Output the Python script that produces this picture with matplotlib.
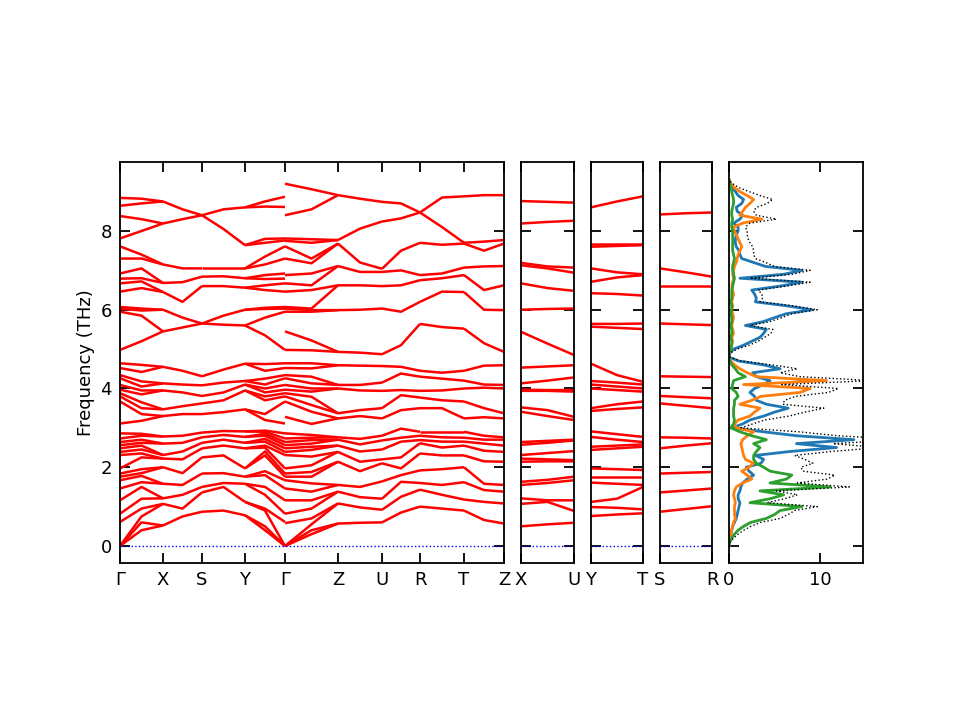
import matplotlib
matplotlib.use('Agg')
import matplotlib.pyplot as plt
import numpy as np

# ---------------- band data (THz) ----------------
# Columns of band frequencies at the start / middle / end of each path segment.
# On the zone faces the bands are pairwise degenerate; those columns list each pair once.
G0 = [0, 0, 0, 0.61, 0.82, 1.16, 1.46, 1.67, 1.76, 1.84, 1.97, 2.31, 2.39, 2.48, 2.56, 2.64, 2.73, 2.86,
      3.11, 3.67, 3.80, 3.88, 3.97, 4.09, 4.26, 4.34, 4.52, 4.64,
      4.98, 5.95, 6.03, 6.07, 6.46, 6.67, 6.79, 6.92, 7.30, 7.61, 7.81, 8.38, 8.64, 8.84]
GX_m = [0.40, 0.60, 0.75, 0.95, 1.20, 1.50, 1.62, 1.78, 1.85, 1.95, 2.25, 2.35, 2.45, 2.55, 2.62, 2.70, 2.80, 2.85,
        3.18, 3.35, 3.50, 3.65, 3.85, 3.95, 4.05, 4.18, 4.42, 4.60,
        5.20, 5.85, 5.98, 6.03, 6.55, 6.72, 6.80, 7.05, 7.30, 7.40, 8.00, 8.30, 8.70, 8.82]
X2 = [0.52, 1.07, 1.21, 1.58, 2.00, 2.22, 2.31, 2.60, 2.78, 3.30, 3.47, 3.95, 4.13, 4.55, 5.45, 6.00, 6.45, 6.68, 7.15, 8.19, 8.75]
XS_m = [0.75, 0.95, 1.30, 1.55, 1.85, 2.20, 2.40, 2.62, 2.80, 3.35, 3.55, 3.90, 4.10, 4.45, 5.55, 5.80, 6.20, 6.70, 7.05, 8.30, 8.55]
S2 = [0.87, 1.36, 1.50, 1.84, 2.25, 2.48, 2.62, 2.76, 2.88, 3.35, 3.62, 3.81, 4.08, 4.31, 5.65, 5.65, 6.60, 6.84, 7.05, 8.40, 8.40]
SY_m = [0.90, 1.50, 1.60, 1.85, 2.30, 2.55, 2.70, 2.82, 2.92, 3.40, 3.70, 3.90, 4.15, 4.48, 5.62, 5.85, 6.60, 6.85, 7.05, 8.05, 8.55]
Y2 = [0.78, 1.12, 1.58, 1.76, 1.97, 2.48, 2.62, 2.77, 2.91, 3.47, 3.95, 4.10, 4.19, 4.63, 5.60, 6.00, 6.56, 6.80, 7.05, 7.64, 8.60]
YG_m = [0.40, 0.50, 0.90, 0.95, 1.30, 1.50, 1.80, 1.90, 2.30, 2.40, 2.50, 2.55, 2.65, 2.72, 2.80, 2.85, 2.90, 2.93,
        3.20, 3.35, 3.70, 3.80, 3.90, 4.00, 4.10, 4.25, 4.45, 4.62,
        5.35, 5.80, 6.02, 6.05, 6.50, 6.62, 6.78, 6.88, 7.15, 7.35, 7.70, 7.80, 8.62, 8.75]
G_L = [0, 0, 0, 0.61, 0.82, 1.16, 1.46, 1.67, 1.76, 1.84, 1.97, 2.31, 2.39, 2.48, 2.56, 2.64, 2.73, 2.86,
       3.11, 3.67, 3.80, 3.88, 3.97, 4.09, 4.26, 4.34, 4.52, 4.64,
       4.98, 5.95, 6.03, 6.07, 6.46, 6.67, 6.79, 6.92, 7.30, 7.61, 7.76, 7.81, 8.61, 8.87]
G_R = [0, 0, 0, 0.58, 0.82, 1.16, 1.46, 1.67, 1.76, 1.84, 1.97, 2.31, 2.39, 2.48, 2.56, 2.64, 2.73, 2.86,
       3.28, 3.67, 3.80, 3.88, 3.97, 4.09, 4.26, 4.34, 4.52, 4.64,
       4.98, 5.45, 5.95, 6.03, 6.07, 6.46, 6.67, 6.88, 7.30, 7.61, 7.75, 7.81, 8.40, 9.20]
GZ_m = [0.30, 0.40, 0.55, 0.70, 0.95, 1.16, 1.38, 1.59, 1.76, 1.88, 2.05, 2.27, 2.44, 2.52, 2.60, 2.69, 2.75, 2.82,
        3.10, 3.41, 3.58, 3.79, 3.92, 4.00, 4.13, 4.30, 4.51, 4.64,
        4.97, 5.22, 5.95, 5.99, 6.03, 6.50, 6.62, 6.92, 7.18, 7.30, 7.70, 7.79, 8.55, 9.06]
Z2 = [0.57, 1.08, 1.38, 1.55, 2.14, 2.39, 2.55, 2.70, 2.76, 3.24, 3.37, 4.00, 4.09, 4.59, 4.93, 5.99, 6.62, 7.11, 7.68, 7.77, 8.91]
ZU_m = [0.59, 0.98, 1.24, 1.50, 1.90, 2.14, 2.40, 2.58, 2.72, 3.30, 3.45, 3.95, 4.09, 4.58, 4.91, 6.00, 6.62, 6.96, 7.20, 8.06, 8.82]
U2 = [0.60, 0.92, 1.20, 1.64, 2.10, 2.20, 2.45, 2.68, 2.80, 3.24, 3.50, 3.94, 4.15, 4.57, 4.87, 6.03, 6.60, 6.96, 7.04, 8.24, 8.74]
UR_m = [0.85, 1.25, 1.63, 1.80, 1.97, 2.25, 2.65, 2.75, 2.98, 3.45, 3.83, 3.96, 4.38, 4.55, 5.10, 5.95, 6.62, 7.00, 7.50, 8.32, 8.70]
R2 = [1.00, 1.43, 1.60, 1.92, 2.35, 2.61, 2.69, 2.80, 2.90, 3.50, 3.77, 3.94, 4.30, 4.45, 5.64, 6.20, 6.75, 6.88, 7.70, 8.47, 8.47]
RT_m = [0.95, 1.30, 1.55, 1.95, 2.30, 2.50, 2.65, 2.76, 2.90, 3.50, 3.70, 3.95, 4.25, 4.40, 5.56, 6.46, 6.80, 6.92, 7.65, 8.10, 8.85]
T2 = [0.90, 1.18, 1.62, 2.00, 2.30, 2.55, 2.65, 2.75, 2.90, 3.24, 3.67, 4.00, 4.20, 4.45, 5.52, 6.45, 6.88, 7.07, 7.68, 7.70, 8.88]
TZ_m = [0.66, 1.12, 1.42, 1.58, 2.15, 2.42, 2.60, 2.70, 2.80, 3.27, 3.50, 4.02, 4.10, 4.58, 5.15, 6.00, 6.50, 7.10, 7.50, 7.73, 8.91]

# side paths
XU_X = [0.50, 1.07, 1.21, 1.55, 1.63, 2.14, 2.22, 2.31, 2.57, 2.64, 3.41, 3.52, 3.94, 3.97, 4.13, 4.53, 5.44, 6.00, 6.67, 7.13, 7.19, 8.19, 8.76]
XU_m = [0.55, 1.12, 1.16, 1.60, 1.68, 2.15, 2.20, 2.36, 2.62, 2.67, 3.30, 3.45, 3.94, 3.96, 4.20, 4.56, 5.14, 6.02, 6.55, 7.05, 7.10, 8.23, 8.74]
XU_U = [0.59, 0.89, 1.16, 1.67, 1.76, 2.15, 2.18, 2.41, 2.68, 2.70, 3.20, 3.28, 3.92, 3.96, 4.28, 4.59, 4.85, 6.03, 6.48, 6.94, 7.07, 8.26, 8.72]

YT_Y = [0.76, 0.99, 1.12, 1.61, 1.76, 1.97, 2.44, 2.52, 2.77, 2.91, 3.43, 3.50, 4.00, 4.10, 4.19, 4.63, 5.57, 5.64, 6.42, 6.71, 7.05, 7.60, 7.68, 8.60]
YT_m = [0.80, 0.97, 1.20, 1.58, 1.76, 1.95, 2.48, 2.55, 2.70, 2.84, 3.48, 3.60, 3.96, 4.05, 4.15, 4.34, 5.54, 5.64, 6.40, 6.82, 6.95, 7.62, 7.68, 8.75]
YT_T = [0.83, 0.93, 1.50, 1.55, 1.76, 1.93, 2.52, 2.58, 2.64, 2.77, 3.52, 3.67, 3.92, 4.00, 4.10, 4.17, 5.51, 5.65, 6.36, 6.88, 6.90, 7.64, 7.68, 8.88]

SR_S = [0.87, 1.36, 1.84, 2.48, 2.76, 3.62, 3.81, 4.31, 5.65, 6.60, 7.05, 8.42]
SR_m = [0.94, 1.41, 1.86, 2.55, 2.75, 3.56, 3.78, 4.30, 5.63, 6.60, 6.95, 8.45]
SR_R = [1.01, 1.46, 1.88, 2.61, 2.73, 3.50, 3.75, 4.29, 5.61, 6.60, 6.84, 8.47]

# path segments: (start label, end label, length, start, mid, end)
main_path = [("Γ", "X", 43, G0, GX_m, X2 + X2), ("X", "S", 39, X2, XS_m, S2), ("S", "Y", 43, S2, SY_m, Y2),
             ("Y", "Γ", 40, Y2 + Y2, YG_m, G_L), ("Γ", "Z", 53, G_R, GZ_m, Z2 + Z2), ("Z", "U", 44, Z2, ZU_m, U2),
             ("U", "R", 38, U2, UR_m, R2), ("R", "T", 44, R2, RT_m, T2), ("T", "Z", 40, T2, TZ_m, Z2)]
side_paths = [[("X", "U", 53, XU_X, XU_m, XU_U)],
              [("Y", "T", 52, YT_Y, YT_m, YT_T)],
              [("S", "R", 52, SR_S, SR_m, SR_R)]]

# ---------------- DOS data ----------------
dos_freq = np.round(np.arange(0, 9.31, 0.1), 2)
dos_c0 = [0, 0, 0.1, 0.2, 0.3, 0.4, 0.6, 0.8, 0.9, 1.0,
          1.1, 1.2, 1.0, 1.0, 1.2, 1.3, 1.5, 2.0, 2.7, 2.2,
          1.9, 3.5, 3.8, 2.9, 6.7, 11.8, 7.4, 13.7, 7.4, 3.8,
          0.3, 1.5, 2.3, 3.8, 5.0, 6.5, 4.1, 3.0, 2.8, 2.3,
          2.8, 3.8, 4.5, 3.0, 2.6, 5.6, 3.8, 1.0, 0.0, 0.1,
          0.5, 1.6, 2.5, 3.4, 3.8, 4.1, 1.8, 3.8, 5.0, 6.3,
          9.1, 6.3, 2.9, 3.0, 2.8, 2.5, 5.6, 8.0, 1.2, 6.0,
          8.0, 4.0, 2.7, 1.4, 1.2, 1.1, 0.8, 0.7, 0.7, 0.8,
          1.0, 1.0, 0.5, 1.2, 1.5, 0.9, 0.8, 1.4, 1.6, 1.0,
          0.7, 0.3, 0.1, 0.0]
dos_c1 = [0, 0, 0.1, 0.2, 0.3, 0.4, 0.5, 0.7, 0.6, 0.6,
          0.6, 0.7, 0.6, 0.5, 0.6, 0.8, 1.5, 2.5, 2.0, 1.4,
          2.2, 2.7, 1.8, 1.6, 1.5, 1.4, 1.3, 1.5, 2.0, 2.7,
          0.8, 0.6, 1.0, 2.3, 2.8, 3.4, 1.2, 2.5, 3.5, 7.8,
          8.9, 1.6, 10.7, 3.0, 2.0, 1.2, 0.6, 0.2, 0.0, 0.0,
          0.2, 0.3, 0.4, 0.3, 0.5, 0.4, 0.3, 0.4, 0.5, 0.4,
          0.3, 0.4, 0.3, 0.4, 0.5, 0.4, 0.3, 0.4, 0.5, 0.4,
          0.5, 0.6, 0.8, 0.9, 1.0, 1.2, 1.4, 1.2, 1.0, 0.8,
          0.6, 0.5, 1.5, 3.6, 1.2, 1.5, 1.8, 2.3, 2.7, 2.0,
          1.2, 0.6, 0.2, 0.0]
dos_c2 = [0, 0.1, 0.3, 0.6, 1.0, 1.6, 2.4, 4.1, 5.0, 5.6,
          8.0, 2.3, 4.5, 6.0, 3.4, 11.1, 4.5, 6.3, 6.9, 4.5,
          3.8, 3.0, 2.7, 2.7, 3.0, 3.4, 2.7, 4.1, 2.5, 1.2,
          0.2, 0.5, 0.6, 0.5, 0.5, 0.5, 0.6, 0.6, 1.0, 0.8,
          0.3, 0.4, 0.5, 1.8, 1.0, 0.7, 0.3, 0.1, 0.0, 0.0,
          0.2, 0.3, 0.3, 0.2, 0.3, 0.3, 0.2, 0.3, 0.3, 0.2,
          0.3, 0.3, 0.2, 0.3, 0.3, 0.3, 0.4, 0.5, 0.6, 0.5,
          0.4, 0.4, 0.5, 0.6, 0.5, 0.4, 0.4, 0.4, 0.4, 0.4,
          0.4, 0.3, 0.3, 0.4, 0.3, 0.3, 0.4, 0.5, 0.5, 0.4,
          0.3, 0.2, 0.1, 0.0]

yticks = [0, 2, 4, 6, 8]
dos_xticks = [0, 10]

# ---------------- figure ----------------
FS = 13
plt.rcParams['font.family'] = ['DejaVu Sans']
fig = plt.figure(figsize=(9.6, 7.2), dpi=100)
ylim = (-0.432, 9.752)

def style(ax):
    for sp in ax.spines.values():
        sp.set_linewidth(1.3)
    ax.tick_params(direction='in', length=7, width=1.3, top=True, right=True,
                   labelsize=FS, pad=6)

def draw_path(ax, path):
    x0 = 0
    ticks, labels = [0], [path[0][0]]
    for (a, b, L, s, m, e) in path:
        s2, m2, e2 = sorted(s), sorted(m), sorted(e)
        n = min(len(s2), len(m2), len(e2))
        for i in range(n):
            ax.plot([x0, x0 + L / 2, x0 + L], [s2[i], m2[i], e2[i]],
                    color='red', lw=1.8, solid_capstyle='butt')
        x0 += L
        ticks.append(x0)
        labels.append(b)
    ax.axhline(0, color='blue', ls=':', lw=1.0)
    ax.set_xlim(0, x0)
    ax.set_ylim(*ylim)
    ax.set_xticks(ticks)
    ax.set_xticklabels(labels)
    ax.set_yticks(yticks)
    style(ax)

ax_main = fig.add_axes([120 / 960, 1 - 563 / 720, 384 / 960, 401 / 720])
draw_path(ax_main, main_path)
ax_main.set_ylabel('Frequency (THz)', fontsize=FS)

side_pos = [(521, 574), (591, 643), (660, 712)]
for (l, r), path in zip(side_pos, side_paths):
    ax = fig.add_axes([l / 960, 1 - 563 / 720, (r - l) / 960, 401 / 720])
    draw_path(ax, path)
    ax.set_yticklabels([])

ax_dos = fig.add_axes([729 / 960, 1 - 563 / 720, 134 / 960, 401 / 720])
dos_total = np.array(dos_c0) + np.array(dos_c1) + np.array(dos_c2)
ax_dos.plot(dos_c0, dos_freq, color='#1f77b4', lw=2)
ax_dos.plot(dos_c1, dos_freq, color='#ff7f0e', lw=2)
ax_dos.plot(dos_c2, dos_freq, color='#2ca02c', lw=2)
ax_dos.plot(dos_total, dos_freq, color='black', ls=':', lw=1.0)
ax_dos.set_xlim(0, 14.7)
ax_dos.set_ylim(*ylim)
ax_dos.set_xticks(dos_xticks)
ax_dos.set_yticks(yticks)
ax_dos.set_yticklabels([])
style(ax_dos)

fig.savefig('out.png', dpi=100)
